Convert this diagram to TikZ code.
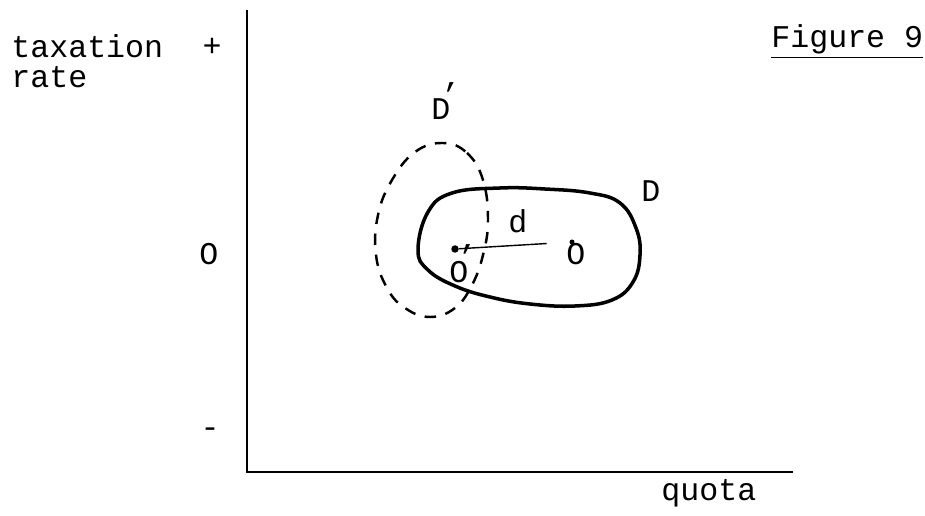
\documentclass[tikz,border=0pt]{standalone}
\usepackage{fontspec}
\setmainfont{Liberation Mono}
\usepackage{tikz}
\usetikzlibrary{positioning}

\begin{document}
\begin{tikzpicture}[
    x=0.02cm, y=-0.02cm,
    font=\fontsize{18}{21}\selectfont,
    axis/.style={line width=1.7pt},
    lbl/.style={inner sep=0pt, anchor=base west},
    dot/.style={circle, fill, inner sep=0pt, minimum size=0.15cm},
    region/.style={line width=2pt},
    altregion/.style={line width=1.4pt, dash pattern=on 6.5pt off 5.5pt}
]
    \useasboundingbox (0,0) rectangle (925,516);

    \coordinate (ytop) at (247,10);
    \coordinate (orig) at (247,472);
    \coordinate (xend) at (793,472);
    \draw[axis] (ytop) -- (orig) -- (xend);

    \node[lbl] (ylab1) at (11,58) {taxation};
    \node[inner sep=0pt] (plus) at (212,47) {+};
    \node[lbl] (ylab2) at (11,88) {rate};
    \node[lbl] (zero) at (199,265) {O};
    \node[inner sep=0pt] (minus) at (210,433) {-};
    \node[lbl] (xlab) at (661,500) {quota};
    \node[lbl] (title) at (771,48) {\underline{Figure 9}};

    \draw[region] plot[smooth cycle, tension=0.7] coordinates {
        (418,250) (428,212) (452,193) (500,188) (545,189) (590,193)
        (620,203) (636,228) (640,255) (633,282) (612,300) (575,306)
        (530,304) (490,297) (455,286) (428,270)};
    \draw[altregion] plot[smooth cycle, tension=0.7] coordinates {
        (443,143) (467,153) (483,180) (488,220) (483,255) (472,285)
        (455,308) (430,317) (405,308) (387,288) (376,255) (378,215)
        (392,180) (415,152)};

    \node[lbl] (dlab) at (641,202) {D};
    \node[lbl] (dplab) at (431,120) {D\raisebox{.45em}{\kern-.3em'}};

    \node[dot] (ideal1) at (455,249) {};
    \node[dot, minimum size=0.1cm] (ideal2) at (572,242) {};
    \node[lbl] (o2lab) at (566,265) {O};
    \node[lbl] (o1lab) at (449,283) {O\raisebox{.5em}{\kern-.35em'}};
    \draw[line width=0.8pt, shorten >=0.45cm] (ideal1) -- (ideal2);
    \node[lbl] (dist) at (508,233) {d};
\end{tikzpicture}
\end{document}
